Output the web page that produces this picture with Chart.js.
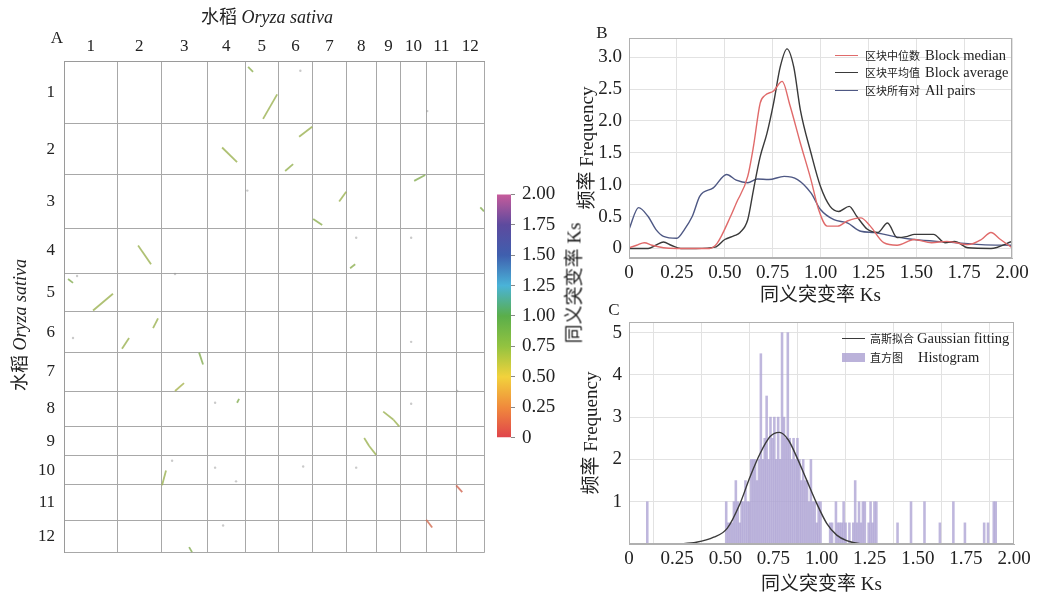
<!DOCTYPE html>
<html><head>
<meta charset="utf-8">
<script src="https://cdn.jsdelivr.net/npm/chart.js"></script>
<title>水稻 Ks</title>
<style>
body {
  margin: 0;
  width: 1037px;
  height: 599px;
  position: relative;
  overflow: hidden;
  background: #fff;
  font-family: 'Liberation Serif', 'Noto Sans CJK SC', serif;
  color: #222;
}
canvas { position: absolute; }
.txt { position: absolute; white-space: nowrap; line-height: 1; }
.panel { font-size: 17px; transform: translate(-50%, -50%); }
.rot { transform: translate(-50%, -50%) rotate(-90deg); }
.row { position: absolute; height: 18px; line-height: 18px; white-space: nowrap; }
.row span { position: absolute; top: 0; }
.sw { height: 0; border-top: 1.4px solid; top: 9px !important; }
.box { height: 9px; top: 5px !important; background: rgba(175,165,212,0.85); }
.zh { font-family: 'Noto Sans CJK SC'; font-size: 11px; }
.en { font-size: 14.5px; }
</style>
</head>
<body>
<canvas id="dot" width="492" height="572" style="left:0;top:0"></canvas>
<canvas id="bar" width="75" height="280" style="left:488px;top:176px"></canvas>
<canvas id="kde" width="462" height="312" style="left:575px;top:0"></canvas>
<canvas id="hist" width="462" height="299" style="left:575px;top:300px"></canvas>

<div class="txt" style="left:267px;top:17px;font-size:18px;transform:translate(-50%,-50%)">水稻 <i>Oryza sativa</i></div>
<div class="txt rot" style="left:20px;top:325px;font-size:18px">水稻 <i>Oryza sativa</i></div>
<div class="txt rot" style="left:574px;top:283px;font-size:19px">同义突变率 Ks</div>
<div class="txt panel" style="left:57px;top:37px">A</div>
<div class="txt panel" style="left:602px;top:32px">B</div>
<div class="txt panel" style="left:614px;top:309px">C</div>

<div class="row" style="left:835px;top:46px"><span class="sw" style="left:0;width:23px;border-color:#e06a6a"></span><span class="zh" style="left:30px">区块中位数</span><span class="en" style="left:90px">Block median</span></div>
<div class="row" style="left:835px;top:63px"><span class="sw" style="left:0;width:23px;border-color:#3a3a3a"></span><span class="zh" style="left:30px">区块平均值</span><span class="en" style="left:90px">Block average</span></div>
<div class="row" style="left:835px;top:81px"><span class="sw" style="left:0;width:23px;border-color:#4e5884"></span><span class="zh" style="left:30px">区块所有对</span><span class="en" style="left:90px">All pairs</span></div>

<div class="row" style="left:842px;top:329px"><span class="sw" style="left:0;width:23px;border-color:#3a3a3a"></span><span class="zh" style="left:28px">高斯拟合</span><span class="en" style="left:75px">Gaussian fitting</span></div>
<div class="row" style="left:842px;top:348px"><span class="box" style="left:0;width:23px"></span><span class="zh" style="left:28px">直方图</span><span class="en" style="left:76px">Histogram</span></div>

<script>
// ---- A: rice self dot plot ----
const chromNames = ['1', '2', '3', '4', '5', '6', '7', '8', '9', '10', '11', '12'];
const chromLen = [47.4, 38.9, 40.9, 33.6, 29.5, 30.8, 29.5, 26.7, 21.9, 22.3, 27.2, 24.3];

// collinear blocks: x1, y1, x2, y2 (genome position, Mb), Ks
const blocks = [
  [163.5, 4.5, 167.9, 8.2, 0.75],
  [189.3, 25.3, 176.8, 43.9, 0.7],
  [220.4, 49.9, 208.8, 57.4, 0.7],
  [140.4, 65.6, 153.7, 76.7, 0.7],
  [203.5, 78.2, 196.4, 83.4, 0.72],
  [320.8, 86.4, 311.0, 90.9, 0.8],
  [250.6, 99.1, 244.4, 106.5, 0.7],
  [369.7, 111.0, 373.0, 114.0, 0.8],
  [221.3, 119.9, 229.3, 124.4, 0.75],
  [65.8, 140.0, 77.3, 154.2, 0.7],
  [258.6, 154.2, 254.1, 157.2, 0.75],
  [3.6, 165.4, 8.0, 168.3, 0.8],
  [25.8, 189.2, 43.5, 176.5, 0.7],
  [79.1, 202.6, 83.5, 195.2, 0.7],
  [51.5, 218.3, 57.8, 210.1, 0.7],
  [120.0, 221.2, 123.5, 230.2, 0.8],
  [98.6, 250.3, 106.6, 244.3, 0.65],
  [155.5, 256.2, 153.7, 259.2, 0.8],
  [283.5, 265.9, 292.4, 271.9, 0.7],
  [292.4, 271.9, 297.7, 277.1, 0.7],
  [266.6, 286.0, 271.0, 292.0, 0.7],
  [271.0, 292.0, 277.2, 298.7, 0.7],
  [90.6, 310.6, 87.1, 321.8, 0.7],
  [348.3, 321.8, 353.7, 327.0, 0.1],
  [321.7, 347.9, 327.0, 353.8, 0.12],
  [111.1, 368.7, 113.7, 372.5, 0.8]
];
// scattered single gene pairs
const dotX = [209.9, 162.8, 322.6, 259.5, 308.3, 11.6, 98.6, 8.0, 134.2, 308.3, 308.3, 349.2, 96.0, 134.2, 212.4, 259.5, 152.8, 141.3];
const dotY = [7.4, 98.3, 38.0, 134.1, 134.1, 163.1, 161.6, 210.1, 259.2, 213.0, 260.0, 250.3, 303.2, 308.4, 307.6, 308.4, 318.8, 352.3];

// colour bar
const ksStops = [0, 0.25, 0.5, 0.75, 1, 1.25, 1.5, 1.75, 2];
const ksColors = ['#e0434b', '#f08a3c', '#f2d23c', '#93c340', '#5aae4a', '#4ab3d8', '#3f5fae', '#5d4a9e', '#c75b9b'];

// ---- B: Ks density ----
const medKs = [0, 0.04, 0.08, 0.12, 0.18, 0.25, 0.35, 0.42, 0.46, 0.53, 0.56, 0.62, 0.65, 0.685, 0.71, 0.755, 0.80, 0.84, 0.895, 0.95, 0.99, 1.035, 1.09, 1.14, 1.21, 1.26, 1.33, 1.40, 1.49, 1.58, 1.66, 1.77, 1.84, 1.89, 1.94, 2.0];
const medFreq = [0.01, 0.05, 0.09, 0.05, 0.01, 0, 0, 0, 0.08, 0.5, 0.71, 1.13, 1.6, 2.28, 2.4, 2.47, 2.62, 2.25, 1.65, 1.08, 0.61, 0.35, 0.35, 0.43, 0.48, 0.35, 0.09, 0.05, 0.14, 0.09, 0.11, 0.06, 0.14, 0.25, 0.14, 0.01];
const avgKs = [0, 0.1, 0.14, 0.18, 0.22, 0.27, 0.35, 0.45, 0.50, 0.55, 0.58, 0.62, 0.65, 0.685, 0.72, 0.755, 0.79, 0.825, 0.86, 0.895, 0.95, 1.0, 1.05, 1.095, 1.15, 1.19, 1.245, 1.30, 1.35, 1.40, 1.455, 1.49, 1.59, 1.65, 1.70, 1.77, 1.89, 2.0];
const avgFreq = [0, 0, 0.05, 0.1, 0.05, 0, 0, 0.02, 0.14, 0.2, 0.25, 0.45, 0.92, 1.44, 1.8, 2.28, 2.85, 3.13, 2.85, 2.17, 1.5, 0.97, 0.66, 0.58, 0.66, 0.5, 0.3, 0.25, 0.4, 0.17, 0.19, 0.22, 0.22, 0.09, 0.11, 0.01, 0, 0.11];
const allKs = [0, 0.05, 0.10, 0.14, 0.18, 0.25, 0.29, 0.33, 0.37, 0.44, 0.51, 0.56, 0.62, 0.67, 0.73, 0.81, 0.88, 0.95, 1.0, 1.07, 1.14, 1.21, 1.28, 1.38, 1.49, 1.66, 1.84, 2.0];
const allFreq = [0.3, 0.64, 0.5, 0.3, 0.19, 0.16, 0.3, 0.5, 0.82, 0.95, 1.16, 1.07, 1.03, 1.09, 1.08, 1.13, 1.08, 0.87, 0.61, 0.45, 0.4, 0.27, 0.25, 0.19, 0.14, 0.1, 0.06, 0.05];

// ---- C: histogram + gaussian fit ----
const histKs = [0.095,
  0.505, 0.515, 0.525, 0.535, 0.545, 0.555, 0.565, 0.575, 0.585, 0.595,
  0.605, 0.615, 0.625, 0.635, 0.645, 0.655, 0.665, 0.675, 0.685, 0.695,
  0.705, 0.715, 0.725, 0.735, 0.745, 0.755, 0.765, 0.775, 0.785, 0.795,
  0.805, 0.815, 0.825, 0.835, 0.845, 0.855, 0.865, 0.875, 0.885, 0.895,
  0.905, 0.915, 0.925, 0.935, 0.945, 0.955, 0.965, 0.975, 0.985, 0.995,
  1.045, 1.055, 1.075, 1.085, 1.095, 1.105, 1.115, 1.125, 1.145, 1.165, 1.175, 1.185, 1.195, 1.205, 1.215, 1.225, 1.245, 1.255, 1.265, 1.275, 1.285,
  1.395, 1.465, 1.535, 1.615, 1.685, 1.745, 1.845, 1.865, 1.895, 1.905];
const histFreq = [1,
  1, 0.5, 0.5, 0.5, 1, 1.5, 1, 0.5, 1, 1,
  1.5, 1, 1, 2, 2, 2, 1.5, 2, 4.5, 2,
  2.5, 3.5, 2, 3, 2.5, 3, 2, 3, 2, 5,
  3, 2.5, 5, 2.5, 2, 2.5, 2, 2.5, 2, 1.5,
  2, 1.5, 1.5, 1, 2, 1, 1, 0.5, 1, 1,
  0.5, 0.5, 1, 0.5, 0.5, 0.5, 1, 0.5, 0.5, 0.5, 1.5, 0.5, 1, 0.5, 1, 1, 0.5, 1, 0.5, 1, 1,
  0.5, 1, 1, 0.5, 1, 0.5, 0.5, 0.5, 1, 1];
const gaussKs = [0.25, 0.35, 0.44, 0.51, 0.577, 0.629, 0.681, 0.733, 0.781, 0.828, 0.871, 0.923, 0.975, 1.027, 1.079, 1.131, 1.2, 1.27];
const gaussFreq = [0, 0.04, 0.16, 0.37, 0.96, 1.59, 2.14, 2.54, 2.64, 2.46, 2.06, 1.51, 0.96, 0.49, 0.21, 0.08, 0.01, 0];

const tickFont = {family: "'Liberation Serif', 'Noto Sans CJK SC', serif", size: 19};
const titleFont = {family: "'Liberation Serif', 'Noto Sans CJK SC', serif", size: 19};
Chart.defaults.color = '#222';

function hexRgb(h) {
  return [1, 3, 5].map(i => parseInt(h.slice(i, i + 2), 16));
}
// colour for a Ks value; dull > 0 greys it down like the printed figure
function ksColor(ks, alpha, dull) {
  let i = 0;
  while (i < ksStops.length - 2 && ks > ksStops[i + 1]) i++;
  const t = Math.min(1, Math.max(0, (ks - ksStops[i]) / (ksStops[i + 1] - ksStops[i])));
  const a = hexRgb(ksColors[i]), b = hexRgb(ksColors[i + 1]);
  const c = a.map((v, k) => Math.round((v + (b[k] - v) * t) * (1 - dull) + 125 * dull));
  return `rgba(${c[0]},${c[1]},${c[2]},${alpha})`;
}

// chromosome edges and centres
const edges = [0];
chromLen.forEach(l => edges.push(edges[edges.length - 1] + l));
const centres = chromLen.map((l, i) => edges[i] + l / 2);
const total = edges[edges.length - 1];
const chromTicks = edges.concat(centres).sort((a, b) => a - b);

function chromAxis(pos, size, pad) {
  return {
    type: 'linear',
    position: pos,
    min: 0,
    max: total,
    reverse: pos === 'left',
    afterBuildTicks: s => { s.ticks = chromTicks.map(v => ({value: v})); },
    afterFit: s => { if (pos === 'top') s.height = size; else s.width = size; },
    grid: {
      color: c => (c.tick && edges.includes(c.tick.value)) ? '#a8a8a8' : 'rgba(0,0,0,0)',
      drawTicks: false
    },
    border: {color: '#9a9a9a'},
    ticks: {
      autoSkip: false,
      maxRotation: 0,
      padding: pad,
      font: {family: tickFont.family, size: 17},
      callback: v => {
        const i = centres.indexOf(v);
        return i >= 0 ? chromNames[i] : '';
      }
    }
  };
}

const dotDatasets = blocks.map(b => ({
  type: 'line',
  data: [{x: b[0], y: b[1]}, {x: b[2], y: b[3]}],
  borderColor: ksColor(b[4], 0.8, b[4] < 0.3 ? 0.2 : 0.28),
  borderWidth: 1.8,
  pointRadius: 0,
  fill: false
}));
dotDatasets.push({
  type: 'scatter',
  data: dotX.map((x, i) => ({x: x, y: dotY[i]})),
  backgroundColor: 'rgba(150,150,150,0.5)',
  pointRadius: 1.2,
  borderWidth: 0
});

new Chart(document.getElementById('dot'), {
  type: 'line',
  data: {datasets: dotDatasets},
  options: {
    responsive: false,
    animation: false,
    events: [],
    layout: {padding: {top: 0, left: 0, right: 8, bottom: 10}},
    plugins: {legend: {display: false}, tooltip: {enabled: false}},
    scales: {
      x: chromAxis('top', 61, 4),
      y: chromAxis('left', 64, 9)
    }
  }
});

// colour bar
new Chart(document.getElementById('bar'), {
  type: 'bar',
  data: {
    labels: ['Ks'],
    datasets: [{
      data: [[0, 2]],
      barPercentage: 1,
      categoryPercentage: 1,
      backgroundColor: c => {
        const a = c.chart.chartArea;
        if (!a) return ksColors[4];
        const g = c.chart.ctx.createLinearGradient(0, a.bottom, 0, a.top);
        ksStops.forEach((s, i) => g.addColorStop(s / 2, ksColors[i]));
        return g;
      }
    }]
  },
  options: {
    responsive: false,
    animation: false,
    events: [],
    layout: {padding: {left: 9, top: 15, bottom: 16, right: 0}},
    plugins: {legend: {display: false}, tooltip: {enabled: false}},
    scales: {
      x: {display: false},
      y: {
        position: 'right',
        min: 0,
        max: 2,
        afterFit: s => { s.width = 52; },
        grid: {drawOnChartArea: false, tickLength: 4, color: '#888'},
        border: {display: false},
        ticks: {
          stepSize: 0.25,
          padding: 7,
          font: tickFont,
          callback: v => v === 0 ? '0' : v.toFixed(2)
        }
      }
    }
  }
});

const frame = {
  id: 'frame',
  afterDraw(chart) {
    const {ctx, chartArea: a} = chart;
    ctx.save();
    ctx.strokeStyle = '#b0b0b0';
    ctx.lineWidth = 1;
    ctx.strokeRect(Math.round(a.left) + 0.5, Math.round(a.top) + 0.5, Math.round(a.width) - 1, Math.round(a.height) - 1);
    ctx.restore();
  }
};

function ksAxis(h, titlePad) {
  return {
    type: 'linear',
    min: 0,
    max: 2,
    afterBuildTicks: s => { s.ticks = ksStops.map(v => ({value: v})); },
    afterFit: s => { s.height = h; },
    grid: {color: '#e2e2e2', drawTicks: false},
    border: {color: '#b0b0b0'},
    ticks: {padding: 4, maxRotation: 0, autoSkip: false, font: tickFont, callback: v => v === 0 ? '0' : v.toFixed(2)},
    title: {display: true, text: '同义突变率 Ks', font: titleFont, padding: {top: 0, bottom: titlePad}}
  };
}

function lineSet(label, xs, ys, color) {
  return {
    label: label,
    data: xs.map((x, i) => ({x: x, y: ys[i]})),
    borderColor: color,
    borderWidth: 1.4,
    pointRadius: 0,
    cubicInterpolationMode: 'monotone',
    fill: false
  };
}

new Chart(document.getElementById('kde'), {
  type: 'line',
  data: {
    datasets: [
      lineSet('区块中位数 Block median', medKs, medFreq, '#e06a6a'),
      lineSet('区块平均值 Block average', avgKs, avgFreq, '#3a3a3a'),
      lineSet('区块所有对 All pairs', allKs, allFreq, '#4e5884')
    ]
  },
  options: {
    responsive: false,
    animation: false,
    events: [],
    layout: {padding: {top: 38, right: 25, bottom: 0, left: 0}},
    plugins: {legend: {display: false}, tooltip: {enabled: false}},
    scales: {
      x: ksAxis(54, 5),
      y: {
        min: -0.15,
        max: 3.3,
        afterBuildTicks: s => { s.ticks = [0, 0.5, 1, 1.5, 2, 2.5, 3].map(v => ({value: v})); },
        afterFit: s => { s.width = 54; },
        grid: {color: '#e2e2e2', drawTicks: false},
        border: {color: '#b0b0b0'},
        ticks: {padding: 7, font: tickFont, callback: v => v === 0 ? '0' : v.toFixed(1)},
        title: {display: true, text: '频率 Frequency', font: titleFont, padding: {top: 2, bottom: 0}}
      }
    }
  },
  plugins: [frame]
});

new Chart(document.getElementById('hist'), {
  data: {
    datasets: [
      {
        type: 'line',
        label: '高斯拟合 Gaussian fitting',
        data: gaussKs.map((x, i) => ({x: x, y: gaussFreq[i]})),
        borderColor: '#3a3a3a',
        borderWidth: 1.4,
        pointRadius: 0,
        cubicInterpolationMode: 'monotone',
        fill: false
      },
      {
        type: 'bar',
        label: '直方图 Histogram',
        data: histKs.map((x, i) => ({x: x, y: histFreq[i]})),
        backgroundColor: 'rgba(175,165,212,0.8)',
        barPercentage: 1,
        categoryPercentage: 1
      }
    ]
  },
  options: {
    responsive: false,
    animation: false,
    events: [],
    layout: {padding: {top: 22, right: 23, bottom: 0, left: 0}},
    plugins: {legend: {display: false}, tooltip: {enabled: false}},
    scales: {
      x: Object.assign(ksAxis(55, 3), {offset: false}),
      y: {
        min: 0,
        max: 5.25,
        afterBuildTicks: s => { s.ticks = [1, 2, 3, 4, 5].map(v => ({value: v})); },
        afterFit: s => { s.width = 54; },
        grid: {color: '#e2e2e2', drawTicks: false},
        border: {color: '#b0b0b0'},
        ticks: {padding: 7, font: tickFont},
        title: {display: true, text: '频率 Frequency', font: titleFont, padding: {top: 6, bottom: 0}}
      }
    }
  },
  plugins: [frame]
});
</script>
</body></html>
